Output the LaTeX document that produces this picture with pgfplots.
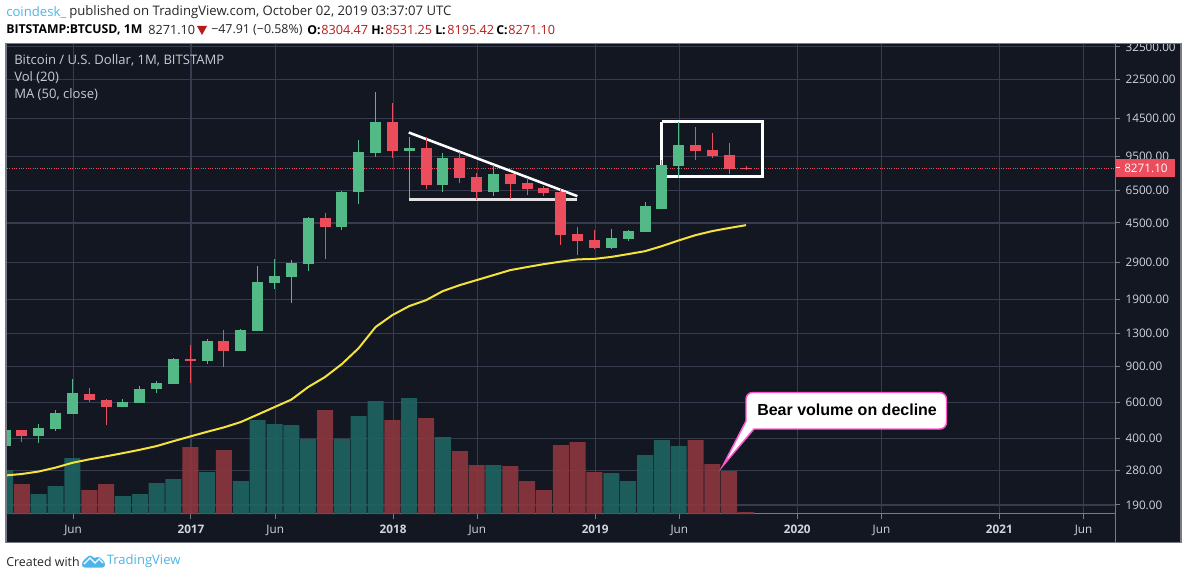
\documentclass[border=0pt]{standalone}
\usepackage{pgfplots}
\pgfplotsset{compat=1.18}
\usepackage{pgfplotstable}
\usepackage{fontspec}
\setmainfont{Open Sans}
\newfontfamily\arialb[BoldFont=Liberation Sans Bold]{Liberation Sans}
\definecolor{bg}{HTML}{131722}
\definecolor{gridc}{HTML}{363C4E}
\definecolor{axc}{HTML}{787B86}
\definecolor{up}{HTML}{53B987}
\definecolor{dn}{HTML}{EB4D5C}
\definecolor{volup}{RGB}{30,100,98}
\definecolor{voldn}{RGB}{140,55,61}
\definecolor{txt}{HTML}{D1D4DC}
\definecolor{ma}{HTML}{F5E33C}
\definecolor{tvblue}{HTML}{4DB6E8}
\definecolor{hdred}{HTML}{B71C1C}
\definecolor{pink}{HTML}{FF55CC}
% m = months from January 2017; o h l c in USD
\pgfplotstableread{
m o h l c
-11 368 441 368 441
-9 412 471 381 451
-8 446 551 436 534
-7 528 785 528 671
-4 570 627 570 605
-3 598 723 598 700
-2 695 765 671 745
-1 738 991 738 978
1 955 1222 925 1195
3 1069 1368 1069 1353
4 1338 2773 1338 2318
5 2292 2999 2144 2479
6 2451 2966 1832 2869
7 2833 4817 2620 4762
9 4295 6470 4150 6400
10 6340 11400 5560 9970
11 9860 19580 9420 13950
13 10080 11790 5950 10420
15 6881 9850 6400 9310
18 6340 8612 6080 7785
25 3393 4200 3360 3800
26 3755 4150 3670 4110
27 4060 5680 4060 5437
28 5280 9100 5280 8612
29 8515 13950 7450 10778
}\upcandles
\pgfplotstableread{
m o h l c
-10 441 441 385 412
-6 663 708 605 620
-5 620 627 466 570
0 978 1143 750 955
2 1195 1353 894 1069
8 4762 5027 3000 4295
12 13950 17260 9310 10080
14 10420 11790 6580 6881
16 9310 9960 7040 7450
17 7530 7870 5810 6340
19 7785 7785 5870 6960
20 7040 7450 6151 6580
21 6650 6800 6080 6290
22 6340 6580 3510 3927
23 3970 4295 3138 3670
24 3712 4150 3360 3393
30 10778 13190 9100 10080
31 10190 12330 9310 9526
32 9634 11020 7785 8270
33 8304 8531 8195 8271
}\dncandles
% volume, arbitrary units
\pgfplotstableread{
m v
-11 44
-9 20
-8 28
-7 56
-4 18
-3 20
-2 31
-1 35
1 42
3 33
4 94
5 90
6 89
7 75
9 75
10 98
11 113
13 116
15 77
18 49
25 41
26 33
27 59
28 74
29 68
}\upvol
\pgfplotstableread{
m v
-10 30
-6 24
-5 30
0 67
2 64
8 104
12 94
14 96
16 63
17 49
19 48
20 33
21 24
22 69
23 72
24 42
30 74
31 50
32 43
33 2
}\dnvol
\pgfplotstableread{
m p
-11 264.5
-10 269
-9 276.6
-8 289
-7 305
-6 317
-5 328
-4 340
-3 353
-2 368
-1 389
0 410
1 432
2 454
3 482
4 524
5 570
6 620
7 714
8 799
9 924
10 1105
11 1400
12 1601
13 1771
14 1893
15 2096
16 2241
17 2370
18 2507
19 2652
20 2745
21 2837
22 2917
23 2991
24 3008
25 3076
26 3174
27 3280
28 3470
29 3700
30 3927
31 4110
32 4255
33 4393
}\maline
\pgfplotsset{
  tvframe/.style={
    scale only axis, width=831.4pt, height=352.5pt,
    at={(5.25pt,48.75pt)}, anchor=south west,
    xmin=-10.885, xmax=54.94,
  },
}
\newcommand{\hd}{\fontsize{9.85pt}{12pt}\selectfont}
\newcommand{\hn}{\fontsize{9.5pt}{12pt}\selectfont}
\newcommand{\hb}{\fontsize{9.2pt}{12pt}\selectfont\bfseries}
\begin{document}
\begin{tikzpicture}
\path[use as bounding box] (0,0) rectangle (891pt,434.25pt);
\begin{scope}[x=0.75pt,y=-0.75pt,shift={(0pt,434.25pt)}]
\fill[white] (0,0) rectangle (1188,579);
\fill[bg] (6,43.5) rectangle (1181,542.5);
\end{scope}
% grid, ticks, last-price line
\begin{axis}[tvframe, ymode=log, ymin=171.7, ymax=33560,
  axis x line*=bottom, axis y line*=right,
  axis line style={axc, line width=0.75pt, -},
  grid=major, major grid style={gridc, line width=0.85pt},
  tick style={axc, line width=0.75pt}, tick align=outside, major tick length=3.5pt,
  minor tick num=0,
  xtick={-6.96,0.04,5.04,12.04,17.04,24.04,29.04,36.04,41.04,48.04,53.04},
  xticklabels={Jun,\textbf{2017},Jun,\textbf{2018},Jun,\textbf{2019},Jun,\textbf{2020},Jun,\textbf{2021},Jun},
  ytick={190,280,400,600,900,1300,1900,2900,4500,6500,9500,14500,22500,32500},
  yticklabels={190.00,280.00,400.00,600.00,900.00,1300.00,1900.00,2900.00,4500.00,6500.00,9500.00,14500.00,22500.00,32500.00},
  yticklabel pos=right,
  ticklabel style={font=\fontsize{8.8pt}{10pt}\selectfont, text=txt},
  xticklabel style={yshift=-1.5pt},
  yticklabel style={xshift=0.5pt},
  clip=true,
]
\addplot[dn, densely dotted, line width=0.75pt, forget plot] coordinates {(-10.885,8271.10) (54.94,8271.10)};
\end{axis}
% volume
\begin{axis}[tvframe, hide axis, ymin=0, ymax=470]
\addplot[ybar, bar width=12pt, bar shift=0pt, draw=none, fill=volup, fill opacity=0.9, forget plot] table[x=m,y=v] {\upvol};
\addplot[ybar, bar width=12pt, bar shift=0pt, draw=none, fill=voldn, fill opacity=0.9, forget plot] table[x=m,y=v] {\dnvol};
\end{axis}
% price
\begin{axis}[tvframe, ymode=log, ymin=171.7, ymax=33560, hide axis]
\addplot[ma, line width=1.5pt, forget plot] table[x=m,y=p] {\maline};
% drawings
\addplot[white, line width=1.9pt, forget plot] coordinates {(12.97,12430) (22.98,6082)};
\addplot[white!88!black, line width=2.1pt, forget plot] coordinates {(12.97,5860) (22.98,5860)};
\addplot[white, line width=2.3pt, forget plot] coordinates {(27.98,14030) (33.98,14030) (33.98,7570) (27.98,7570) (27.98,14030)};
% wicks
\addplot[draw=none, mark=none, forget plot, error bars/.cd, y dir=both, y explicit, error mark=none, error bar style={line width=0.75pt, color=up}]
  table[x=m, y=c, y error plus expr=\thisrow{h}-\thisrow{c}, y error minus expr=\thisrow{c}-\thisrow{l}] {\upcandles};
\addplot[draw=none, mark=none, forget plot, error bars/.cd, y dir=both, y explicit, error mark=none, error bar style={line width=0.75pt, color=dn}]
  table[x=m, y=c, y error plus expr=\thisrow{h}-\thisrow{c}, y error minus expr=\thisrow{c}-\thisrow{l}] {\dncandles};
% bodies
\addplot[draw=none, mark=none, forget plot, error bars/.cd, y dir=minus, y explicit, error mark=none, error bar style={line width=8.25pt, color=up}]
  table[x=m, y=c, y error minus expr=\thisrow{c}-\thisrow{o}] {\upcandles};
\addplot[draw=none, mark=none, forget plot, error bars/.cd, y dir=plus, y explicit, error mark=none, error bar style={line width=8.25pt, color=dn}]
  table[x=m, y=c, y error plus expr=\thisrow{o}-\thisrow{c}] {\dncandles};
\end{axis}
% furniture
\begin{scope}[x=0.75pt,y=-0.75pt,shift={(0pt,434.25pt)},font=\hd]
\fill[white] (0,0) rectangle (1188,43);
\draw[axc, line width=0.9pt] (6,43.5) rectangle (1181,542.5);
\draw[axc, line width=0.75pt] (1115.5,514) -- (1115.5,542.5);
% last price label
\fill[dn] (1115.5,159) rectangle (1175,177);
\draw[white, line width=0.75pt] (1116,168) -- (1120,168);
\node[anchor=west, inner sep=0, text=white, font=\fontsize{8.8pt}{10pt}\selectfont] at (1124,168) {8271.10};
% indicator legend
\begin{scope}[font=\fontsize{9.8pt}{11pt}\selectfont]
\node[anchor=west, inner sep=0, text=txt!90!gray] at (14,60.5) {Bitcoin / U.S. Dollar, 1M, BITSTAMP};
\node[anchor=west, inner sep=0, text=txt!90!gray] at (14,77.5) {Vol (20)};
\node[anchor=west, inner sep=0, text=txt!90!gray] at (14,94.5) {MA (50, close)};
\end{scope}
% header
\node[anchor=west, inner sep=0, text=tvblue] at (6,12.5) {coindesk\_};
\node[anchor=west, inner sep=0, text=black!85] at (69,12.5) {published on TradingView.com, October 02, 2019 03:37:07 UTC};
\node[anchor=west, inner sep=0, text=black, font=\hb] at (6,30) {BITSTAMP:BTCUSD, 1M};
\node[anchor=west, inner sep=0, text=black!85, font=\hn] at (148,30) {8271.10};
\fill[hdred] (197,26) -- (207,26) -- (202,35) -- cycle;
\node[anchor=west, inner sep=0, text=black!85, font=\fontsize{9.3pt}{12pt}\selectfont] at (211,30) {−47.91 (−0.58\%)};
\node[anchor=west, inner sep=0, text=black, font=\hb] at (307,30) {O:};
\node[anchor=west, inner sep=0, text=hdred, font=\hn] at (321,30) {8304.47};
\node[anchor=west, inner sep=0, text=black, font=\hb] at (371,30) {H:};
\node[anchor=west, inner sep=0, text=hdred, font=\hn] at (385,30) {8531.25};
\node[anchor=west, inner sep=0, text=black, font=\hb] at (435,30) {L:};
\node[anchor=west, inner sep=0, text=hdred, font=\hn] at (447,30) {8195.42};
\node[anchor=west, inner sep=0, text=black, font=\hb] at (496,30) {C:};
\node[anchor=west, inner sep=0, text=hdred, font=\hn] at (508,30) {8271.10};
% footer
\node[anchor=west, inner sep=0, text=black!85, font=\fontsize{9.3pt}{11pt}\selectfont] at (6,561.5) {Created with};
\fill[tvblue, rounded corners=2pt] (82,567.5) -- (82,562) -- (90,554.5) -- (95,559) -- (98,556) -- (105,562) -- (105,567.5) -- cycle;
\draw[white, line width=0.9pt] (84,564) -- (90,558) -- (95,563) -- (99,559) -- (103,563);
\node[anchor=west, inner sep=0, text=tvblue, font=\fontsize{9.8pt}{11pt}\selectfont] at (106.5,561.5) {TradingView};
% callout
\draw[pink, fill=white, line width=1.1pt, line join=miter] (746,421) [rounded corners=5pt] -- (746,392.5) -- (946.5,392.5) -- (946.5,429) [sharp corners] -- (754,429) -- (722.7,466) -- cycle;
\node[anchor=west, inner sep=0, text=black, font=\arialb\fontsize{12pt}{14pt}\selectfont\bfseries] at (757,409.5) {Bear volume on decline};
\end{scope}
\end{tikzpicture}
\end{document}
